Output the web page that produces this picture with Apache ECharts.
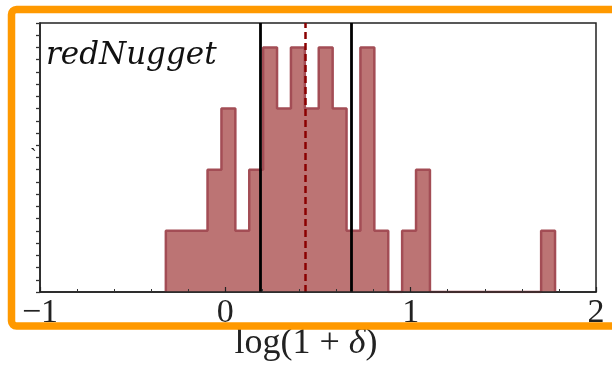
<!DOCTYPE html>
<html>
<head>
<meta charset="utf-8">
<script src="https://cdn.jsdelivr.net/npm/echarts@6/dist/echarts.min.js"></script>
<style>
html,body{margin:0;padding:0;background:#fff;}
#chart{width:612px;height:369px;}
</style>
</head>
<body>
<div id="chart"></div>
<script>
// Histogram bin edges (log(1+delta)) and counts
const binEdges = [-0.321,-0.246,-0.171,-0.096,-0.021,0.054,0.129,0.204,0.279,0.354,
                  0.429,0.504,0.579,0.654,0.729,0.804,0.879,0.954,1.029,1.104,
                  1.179,1.254,1.329,1.404,1.479,1.554,1.629,1.704,1.779];
const binCounts = [1,1,1,2,3,1,2,4,3,4,3,4,3,1,4,1,0,1,2,0,0,0,0,0,0,0,0,1];
const solidLines = [0.19, 0.683];
const dashedLines = [0.426];
const xTicks = [-1, 0, 1, 2];
const panelLabel = 'redNugget';

// build step outline points
const stepData = [[binEdges[0], 0]];
for (let i = 0; i < binCounts.length; i++) stepData.push([binEdges[i], binCounts[i]]);
stepData.push([binEdges[binEdges.length - 1], binCounts[binCounts.length - 1]]);
stepData.push([binEdges[binEdges.length - 1], 0]);

const chart = echarts.init(document.getElementById('chart'), null, {renderer: 'canvas'});
const serif = '"Liberation Serif", "DejaVu Serif", serif';

chart.setOption({
  animation: false,
  grid: {left: 40, right: 16, top: 23, bottom: 77, show: true, borderColor: '#222', borderWidth: 1.5, backgroundColor: 'transparent'},
  xAxis: {
    type: 'value', min: xTicks[0], max: xTicks[xTicks.length - 1], interval: 1, z: 5,
    axisLine: {show: true, onZero: false, lineStyle: {color: '#222', width: 1.5}},
    axisTick: {show: true, inside: true, length: 5, lineStyle: {color: '#222', width: 1.2}},
    minorTick: {show: true, splitNumber: 5, length: 3, lineStyle: {color: '#333', width: 1}},
    splitLine: {show: false},
    axisLabel: {
      fontFamily: serif, fontSize: 34, color: '#222', margin: 4,
      formatter: v => (v < 0 ? '\u2212' + Math.abs(v) : String(v))
    }
  },
  yAxis: {
    type: 'value', min: 0, max: 4.4, interval: 0.2, z: 5,
    axisLine: {show: true, onZero: false, lineStyle: {color: '#222', width: 1.5}},
    axisTick: {show: true, inside: false, length: 4, lineStyle: {color: '#333', width: 1.3}},
    axisLabel: {show: false},
    splitLine: {show: false}
  },
  series: [{
    type: 'line', step: 'end', data: stepData, symbol: 'none',
    lineStyle: {color: '#a34d55', width: 2.5},
    areaStyle: {color: '#bc7474', opacity: 1, origin: 'start'},
    z: 2,
    markLine: {
      silent: true, symbol: 'none', label: {show: false},
      data: solidLines.map(v => ({xAxis: v, lineStyle: {color: '#000', width: 2.8, type: 'solid'}}))
        .concat(dashedLines.map(v => ({xAxis: v, lineStyle: {color: '#8b0000', width: 2.5, type: [7, 4]}})))
    }
  }],
  graphic: [
    {type: 'text', left: 46, top: 40, z: 50,
     style: {text: panelLabel, font: 'italic 31px "DejaVu Serif", serif', fill: '#111'}},
    {type: 'text', left: 30, top: 148, z: 50,
     style: {text: '`', font: '20px "Liberation Serif", serif', fill: '#111'}},
    {type: 'text', left: 'center', top: 326, z: 50,
     style: {
       text: '{n|log(1 + }{i|δ}{n|)}',
       rich: {
         n: {fontFamily: '"Liberation Serif", serif', fontSize: 36, fill: '#222', color: '#222'},
         i: {fontFamily: '"Liberation Serif", serif', fontStyle: 'italic', fontSize: 36, fill: '#222', color: '#222'}
       }
     }},
    {type: 'rect', z: 100,
     shape: {x: 11.5, y: 9.5, width: 640, height: 316.5, r: 5},
     style: {fill: 'none', stroke: '#ff9900', lineWidth: 7.5}}
  ]
});
</script>
</body>
</html>
